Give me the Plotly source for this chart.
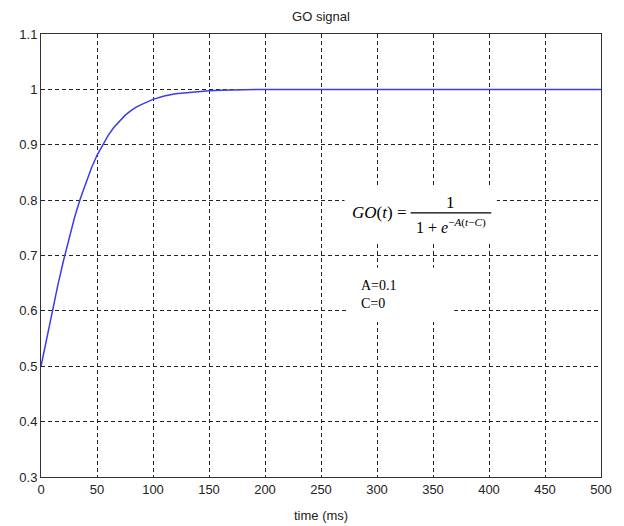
import plotly.graph_objects as go

# Data
time_ms = [0, 5, 10, 15, 20, 25, 30, 35, 40, 45, 50, 55, 60, 65, 70, 75, 80, 85, 90, 95, 100,
           110, 120, 130, 140, 150, 160, 170, 180, 200, 250, 300, 350, 400, 450, 500]
go_signal = [0.500, 0.550, 0.599, 0.646, 0.690, 0.731, 0.769, 0.802, 0.832, 0.858, 0.881, 0.900,
             0.917, 0.931, 0.943, 0.953, 0.961, 0.968, 0.973, 0.978, 0.982,
             0.988, 0.992, 0.994, 0.996, 0.9975, 0.9984, 0.999, 0.9993, 1.0, 1.0, 1.0, 1.0, 1.0, 1.0, 1.0]
x_ticks = [0, 50, 100, 150, 200, 250, 300, 350, 400, 450, 500]
y_ticks = [0.3, 0.4, 0.5, 0.6, 0.7, 0.8, 0.9, 1.0, 1.1]
y_tick_labels = ["0.3", "0.4", "0.5", "0.6", "0.7", "0.8", "0.9", "1", "1.1"]

fig = go.Figure()
fig.add_trace(go.Scatter(x=time_ms, y=go_signal, mode="lines",
                         line=dict(color="#3b3bef", width=1.5),
                         hoverinfo="skip", showlegend=False))

axis_common = dict(showline=True, mirror=True, linecolor="#333333", linewidth=1,
                   showgrid=True, gridcolor="#222222", gridwidth=1, griddash="4px,3px",
                   zeroline=False, ticks="", tickfont=dict(family="Liberation Sans, Arial", size=13, color="#222222"))

fig.update_xaxes(range=[0, 500], tickvals=x_ticks, ticktext=[str(v) for v in x_ticks], **axis_common)
fig.update_yaxes(range=[0.3, 1.1], tickvals=y_ticks, ticktext=y_tick_labels, **axis_common)

# white boxes behind the annotations (hide grid)
fig.add_shape(type="rect", xref="x", yref="y", x0=271, x1=407, y0=0.725, y1=0.822,
              fillcolor="white", line=dict(width=0), layer="above")
fig.add_shape(type="rect", xref="x", yref="y", x0=274, x1=369, y0=0.58, y1=0.678,
              fillcolor="white", line=dict(width=0), layer="above")
# fraction bar
fig.add_shape(type="line", xref="x", yref="y", x0=330, x1=402, y0=0.777, y1=0.777,
              line=dict(color="black", width=1.2), layer="above")

serif = dict(family="Liberation Serif, Times New Roman", color="black")
fig.add_annotation(x=328, y=0.777, xref="x", yref="y", text="<i>GO</i>(<i>t</i>) =",
                   showarrow=False, xanchor="right", yanchor="middle", font=dict(size=17, **serif))
fig.add_annotation(x=366, y=0.796, xref="x", yref="y", text="1",
                   showarrow=False, xanchor="center", yanchor="middle", font=dict(size=17, **serif))
fig.add_annotation(x=366, y=0.753, xref="x", yref="y", text="1 + <i>e</i><sup>−<i>A</i>(<i>t</i>−<i>C</i>)</sup>",
                   showarrow=False, xanchor="center", yanchor="middle", font=dict(size=16, **serif))
fig.add_annotation(x=284, y=0.646, xref="x", yref="y", text="A=0.1",
                   showarrow=False, xanchor="left", yanchor="middle", font=dict(size=14, **serif))
fig.add_annotation(x=284, y=0.613, xref="x", yref="y", text="C=0",
                   showarrow=False, xanchor="left", yanchor="middle", font=dict(size=14, **serif))

# x-axis title
fig.add_annotation(x=0.5, y=-(515 - 477) / (477 - 34), xref="paper", yref="paper", text="time (ms)",
                   showarrow=False, yanchor="middle",
                   font=dict(family="Liberation Sans, Arial", size=13, color="#222222"))

fig.update_layout(
    width=624, height=526,
    margin=dict(l=41, r=19, t=34, b=49),
    paper_bgcolor="white", plot_bgcolor="white",
    title=dict(text="GO signal", x=0.5, xref="paper", xanchor="center",
               y=1 - 16 / 526, yref="container", yanchor="middle",
               font=dict(family="Liberation Sans, Arial", size=13, color="#222222")),
)

fig.write_html("out.html")
